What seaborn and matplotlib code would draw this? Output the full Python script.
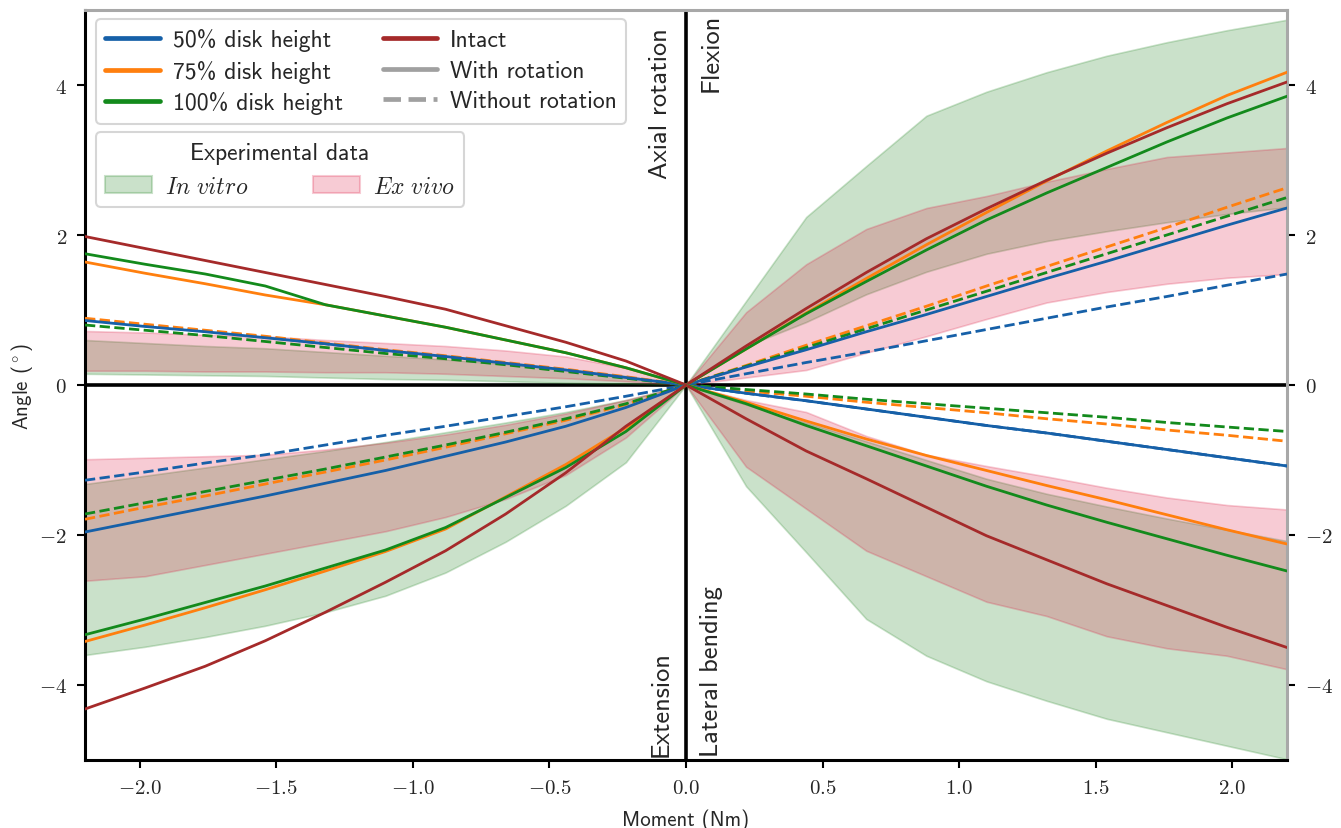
import matplotlib
matplotlib.use("Agg")
import matplotlib.pyplot as plt
import seaborn as sns
from matplotlib.lines import Line2D
from matplotlib.patches import Patch
from matplotlib.ticker import FuncFormatter, MultipleLocator

sns.set_theme(style="ticks")
plt.rcParams["font.family"] = ["cmss10", "DejaVu Sans"]
plt.rcParams["mathtext.fontset"] = "cm"
plt.rcParams["axes.unicode_minus"] = False

# moment steps (Nm)
moment_pos = [0.0, 0.22, 0.44, 0.66, 0.88, 1.10, 1.32, 1.54, 1.76, 1.98, 2.20]
moment_neg = [-2.20, -1.98, -1.76, -1.54, -1.32, -1.10, -0.88, -0.66, -0.44, -0.22, 0.0]

# flexion (positive moment, positive angle)
flex_intact = [0, 0.52, 1.02, 1.50, 1.95, 2.35, 2.73, 3.09, 3.43, 3.75, 4.04]
flex_h50 = [0, 0.24, 0.47, 0.71, 0.94, 1.18, 1.42, 1.65, 1.89, 2.13, 2.36]
flex_h75 = [0, 0.48, 0.96, 1.42, 1.87, 2.30, 2.72, 3.12, 3.50, 3.86, 4.17]
flex_h100 = [0, 0.48, 0.95, 1.38, 1.80, 2.20, 2.56, 2.90, 3.24, 3.56, 3.85]
flex_h50_norot = [0, 0.15, 0.30, 0.44, 0.59, 0.74, 0.89, 1.04, 1.18, 1.33, 1.48]
flex_h75_norot = [0, 0.26, 0.53, 0.79, 1.05, 1.32, 1.58, 1.84, 2.10, 2.37, 2.63]
flex_h100_norot = [0, 0.25, 0.50, 0.75, 1.00, 1.25, 1.50, 1.75, 2.00, 2.25, 2.50]
flex_vitro_lo = [0, 0.52, 0.84, 1.21, 1.51, 1.75, 1.92, 2.05, 2.17, 2.28, 2.37]
flex_vitro_hi = [0, 1.12, 2.24, 2.92, 3.59, 3.91, 4.17, 4.39, 4.57, 4.73, 4.87]
flex_vivo_lo = [0, 0.10, 0.20, 0.43, 0.65, 0.88, 1.10, 1.24, 1.35, 1.43, 1.48]
flex_vivo_hi = [0, 0.97, 1.61, 2.08, 2.36, 2.52, 2.71, 2.88, 3.04, 3.10, 3.16]

# lateral bending (positive moment, negative angle)
lat_intact = [0, -0.45, -0.88, -1.25, -1.63, -2.01, -2.33, -2.65, -2.94, -3.23, -3.50]
lat_h50 = [0, -0.11, -0.21, -0.32, -0.43, -0.54, -0.64, -0.75, -0.86, -0.97, -1.08]
lat_h75 = [0, -0.23, -0.48, -0.72, -0.94, -1.14, -1.34, -1.53, -1.73, -1.93, -2.12]
lat_h100 = [0, -0.25, -0.54, -0.81, -1.08, -1.35, -1.60, -1.83, -2.05, -2.27, -2.48]
lat_h50_norot = [0, -0.11, -0.21, -0.32, -0.43, -0.54, -0.64, -0.75, -0.86, -0.97, -1.08]
lat_h75_norot = [0, -0.08, -0.15, -0.23, -0.30, -0.37, -0.45, -0.52, -0.60, -0.67, -0.75]
lat_h100_norot = [0, -0.06, -0.12, -0.19, -0.25, -0.31, -0.37, -0.43, -0.50, -0.56, -0.62]
lat_vitro_lo = [0, -1.35, -2.23, -3.12, -3.61, -3.95, -4.21, -4.45, -4.63, -4.81, -4.99]
lat_vitro_hi = [0, -0.26, -0.50, -0.75, -1.00, -1.25, -1.45, -1.62, -1.78, -1.93, -2.08]
lat_vivo_lo = [0, -1.09, -1.65, -2.21, -2.55, -2.89, -3.08, -3.35, -3.51, -3.61, -3.79]
lat_vivo_hi = [0, -0.20, -0.36, -0.68, -0.93, -1.08, -1.22, -1.37, -1.50, -1.60, -1.66]

# axial rotation (negative moment, positive angle)
axr_intact = [1.98, 1.82, 1.66, 1.50, 1.34, 1.18, 1.01, 0.79, 0.57, 0.32, 0]
axr_h50 = [0.86, 0.78, 0.71, 0.63, 0.55, 0.46, 0.38, 0.29, 0.20, 0.10, 0]
axr_h75 = [1.64, 1.49, 1.35, 1.20, 1.07, 0.92, 0.77, 0.60, 0.43, 0.23, 0]
axr_h100 = [1.75, 1.61, 1.48, 1.32, 1.07, 0.92, 0.77, 0.60, 0.43, 0.23, 0]
axr_h50_norot = [0.87, 0.79, 0.72, 0.64, 0.55, 0.46, 0.38, 0.29, 0.20, 0.10, 0]
axr_h75_norot = [0.89, 0.81, 0.73, 0.65, 0.56, 0.47, 0.39, 0.30, 0.21, 0.11, 0]
axr_h100_norot = [0.80, 0.73, 0.66, 0.58, 0.50, 0.42, 0.35, 0.27, 0.18, 0.09, 0]
axr_vitro_lo = [0.15, 0.14, 0.13, 0.12, 0.10, 0.08, 0.07, 0.05, 0.03, 0.02, 0]
axr_vitro_hi = [0.60, 0.56, 0.52, 0.49, 0.44, 0.39, 0.34, 0.28, 0.21, 0.12, 0]
axr_vivo_lo = [0.19, 0.19, 0.18, 0.18, 0.17, 0.17, 0.15, 0.12, 0.09, 0.05, 0]
axr_vivo_hi = [0.72, 0.70, 0.67, 0.65, 0.60, 0.56, 0.52, 0.46, 0.38, 0.23, 0]

# extension (negative moment, negative angle)
ext_intact = [-4.32, -4.04, -3.75, -3.41, -3.03, -2.63, -2.21, -1.72, -1.17, -0.55, 0]
ext_h50 = [-1.96, -1.80, -1.64, -1.48, -1.31, -1.14, -0.95, -0.76, -0.55, -0.30, 0]
ext_h75 = [-3.42, -3.20, -2.97, -2.73, -2.48, -2.22, -1.92, -1.49, -1.06, -0.57, 0]
ext_h100 = [-3.33, -3.12, -2.90, -2.68, -2.44, -2.20, -1.90, -1.50, -1.10, -0.62, 0]
ext_h50_norot = [-1.27, -1.16, -1.04, -0.93, -0.80, -0.67, -0.55, -0.42, -0.29, -0.15, 0]
ext_h75_norot = [-1.79, -1.63, -1.48, -1.32, -1.16, -1.00, -0.83, -0.65, -0.47, -0.26, 0]
ext_h100_norot = [-1.72, -1.57, -1.42, -1.27, -1.12, -0.96, -0.80, -0.63, -0.45, -0.25, 0]
ext_vitro_lo = [-3.60, -3.49, -3.36, -3.21, -3.03, -2.81, -2.50, -2.09, -1.61, -1.03, 0]
ext_vitro_hi = [-1.32, -1.21, -1.10, -0.99, -0.88, -0.76, -0.63, -0.50, -0.36, -0.20, 0]
ext_vivo_lo = [-2.61, -2.55, -2.40, -2.25, -2.10, -1.95, -1.76, -1.52, -1.20, -0.70, 0]
ext_vivo_hi = [-0.99, -0.97, -0.95, -0.93, -0.86, -0.77, -0.66, -0.53, -0.38, -0.20, 0]

C50, C75, C100, CINT = "#1660a8", "#ff7f0e", "#138a1c", "#a52a2a"
CVITRO, CVIVO = "#2e8b2e", "#dc143c"

fig = plt.figure(figsize=(13.41, 8.29), dpi=100)
ax = fig.add_axes([85 / 1341, 68 / 829, 1202 / 1341, 750 / 829])

quadrants = [
    (moment_pos, flex_intact, flex_h50, flex_h75, flex_h100, flex_h50_norot, flex_h75_norot,
     flex_h100_norot, flex_vitro_lo, flex_vitro_hi, flex_vivo_lo, flex_vivo_hi),
    (moment_pos, lat_intact, lat_h50, lat_h75, lat_h100, lat_h50_norot, lat_h75_norot,
     lat_h100_norot, lat_vitro_lo, lat_vitro_hi, lat_vivo_lo, lat_vivo_hi),
    (moment_neg, axr_intact, axr_h50, axr_h75, axr_h100, axr_h50_norot, axr_h75_norot,
     axr_h100_norot, axr_vitro_lo, axr_vitro_hi, axr_vivo_lo, axr_vivo_hi),
    (moment_neg, ext_intact, ext_h50, ext_h75, ext_h100, ext_h50_norot, ext_h75_norot,
     ext_h100_norot, ext_vitro_lo, ext_vitro_hi, ext_vivo_lo, ext_vivo_hi),
]

ax.axhline(0, color="black", lw=2.6, zorder=1)
ax.axvline(0, color="black", lw=2.6, zorder=1)

for (m, intact, h50, h75, h100, n50, n75, n100, vt_lo, vt_hi, vv_lo, vv_hi) in quadrants:
    ax.fill_between(m, vt_lo, vt_hi, facecolor=CVITRO, edgecolor=CVITRO, alpha=0.25, lw=1.2, zorder=2)
    ax.fill_between(m, vv_lo, vv_hi, facecolor=CVIVO, edgecolor=CVIVO, alpha=0.22, lw=1.2, zorder=2)
    for ys, c in [(n50, C50), (n75, C75), (n100, C100)]:
        sns.lineplot(x=m, y=ys, ax=ax, color=c, lw=2.0, linestyle="--", estimator=None, sort=False, zorder=3)
    for ys, c in [(h50, C50), (h75, C75), (h100, C100), (intact, CINT)]:
        sns.lineplot(x=m, y=ys, ax=ax, color=c, lw=2.0, estimator=None, sort=False, zorder=4)

ax.set_xlim(-2.2, 2.2)
ax.set_ylim(-5, 5)
ax.xaxis.set_major_locator(MultipleLocator(0.5))
ax.yaxis.set_major_locator(MultipleLocator(2))
ax.xaxis.set_major_formatter(FuncFormatter(lambda v, p: f"${v:.1f}$"))
ax.yaxis.set_major_formatter(FuncFormatter(lambda v, p: f"${v:.0f}$"))
ax.tick_params(axis="both", direction="out", length=6, width=1.5, color="black",
               labelsize=15, pad=7, right=True, labelright=True)

for side in ["left", "bottom"]:
    ax.spines[side].set_color("black")
    ax.spines[side].set_linewidth(2.2)
for side in ["top", "right"]:
    ax.spines[side].set_color("#a8a8a8")
    ax.spines[side].set_linewidth(2.2)

ax.set_xlabel("Moment (Nm)", fontsize=15, labelpad=8)
ax.set_ylabel(r"Angle ($^\circ$)", fontsize=15)
ax.yaxis.set_label_coords(-0.042, 0.5)

qfont = dict(fontsize=19, rotation=90)
ax.text(-0.05, 4.77, "Axial rotation", ha="right", va="top", **qfont)
ax.text(0.05, 4.97, "Flexion", ha="left", va="top", **qfont)
ax.text(-0.05, -4.95, "Extension", ha="right", va="bottom", **qfont)
ax.text(0.05, -4.95, "Lateral bending", ha="left", va="bottom", **qfont)

model_handles = [
    Line2D([], [], color=C50, lw=3.4, label="50% disk height"),
    Line2D([], [], color=C75, lw=3.4, label="75% disk height"),
    Line2D([], [], color=C100, lw=3.4, label="100% disk height"),
    Line2D([], [], color=CINT, lw=3.4, label="Intact"),
    Line2D([], [], color="#a0a0a0", lw=3.4, label="With rotation"),
    Line2D([], [], color="#a0a0a0", lw=3.4, linestyle="--", label="Without rotation"),
]
leg1 = ax.legend(handles=model_handles, ncol=2, loc="upper left", bbox_to_anchor=(0.009, 0.988),
                 borderaxespad=0, fontsize=17, handlelength=2.3, handletextpad=0.55,
                 columnspacing=1.7, labelspacing=0.36, borderpad=0.4, frameon=True,
                 fancybox=True, edgecolor="#cccccc")
leg1.get_frame().set_linewidth(1.5)
ax.add_artist(leg1)

exp_handles = [
    Patch(facecolor=CVITRO, edgecolor=CVITRO, alpha=0.25, lw=1.5, label=r"$In\ vitro$"),
    Patch(facecolor=CVIVO, edgecolor=CVIVO, alpha=0.22, lw=1.5, label=r"$Ex\ vivo$"),
]
leg2 = ax.legend(handles=exp_handles, ncol=2, loc="upper left", bbox_to_anchor=(0.009, 0.837),
                 borderaxespad=0, fontsize=17, title="Experimental data", title_fontsize=17,
                 handlelength=2.0, handletextpad=0.55, columnspacing=2.7, borderpad=0.4,
                 frameon=True, fancybox=True, edgecolor="#cccccc")
leg2.get_frame().set_linewidth(1.5)

fig.savefig("out.png", dpi=100)
